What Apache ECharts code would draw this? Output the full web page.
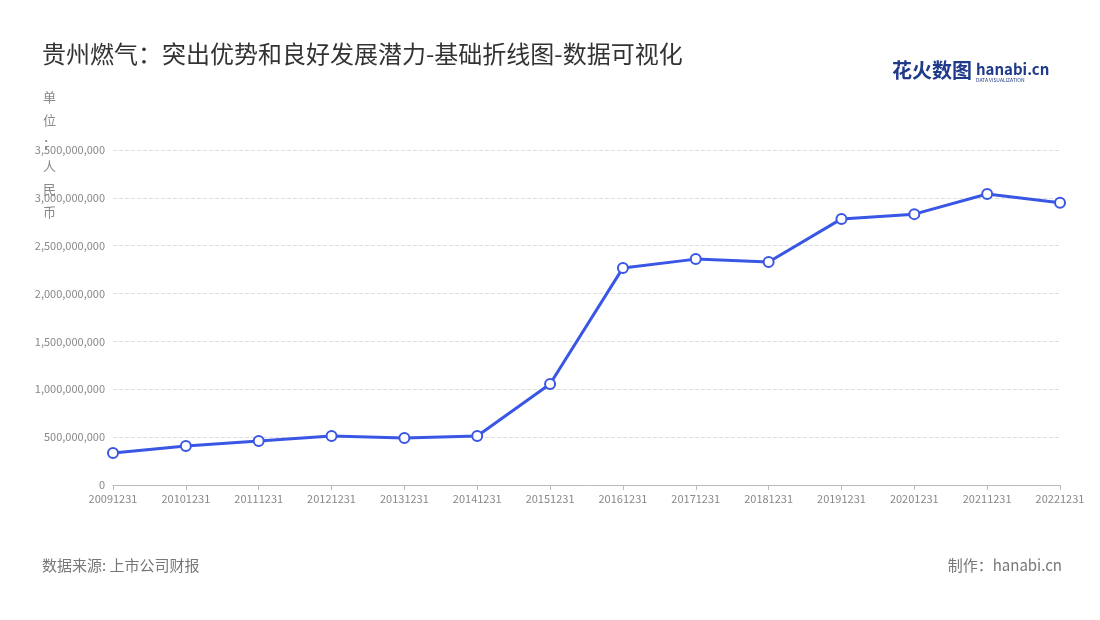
<!DOCTYPE html>
<html>
<head>
<meta charset="utf-8">
<script src="https://cdn.jsdelivr.net/npm/echarts@6/dist/echarts.min.js"></script>
<style>html,body{margin:0;padding:0;background:#fff}#main{width:1100px;height:620px}</style>
</head>
<body>
<div id="main"></div>
<script>
var years = ['20091231','20101231','20111231','20121231','20131231','20141231','20151231','20161231','20171231','20181231','20191231','20201231','20211231','20221231'];
var revenue = [334000000,407000000,460000000,512000000,490000000,512000000,1055000000,2268000000,2360000000,2330000000,2780000000,2830000000,3040000000,2950000000];

var chart = echarts.init(document.getElementById('main'));
var font = '"Noto Sans CJK SC", "Noto Sans", sans-serif';
chart.setOption({
    backgroundColor: '#fff',
    textStyle: {fontFamily: font},
    title: {
        text: '贵州燃气：突出优势和良好发展潜力-基础折线图-数据可视化',
        left: 37, top: 37,
        textStyle: {fontSize: 24, fontWeight: 'normal', color: '#333', fontFamily: font}
    },
    graphic: [
        {type: 'text', left: 892, top: 60, style: {text: '花火数图', fontSize: 20, fontWeight: 'bold', fill: '#1f3a8a', fontFamily: font}},
        {type: 'text', left: 976, top: 62, style: {text: 'hanabi.cn', fontSize: 15, fontWeight: 'bold', fill: '#1f3a8a', fontFamily: font}},
        {type: 'text', left: 976, top: 78, style: {text: 'DATA VISUALIZATION', fontSize: 5, fill: '#1f3a8a', fontFamily: font}},
        {type: 'text', left: 43, top: 86, style: {text: '单\n位\n：\n人\n民\n币', fontSize: 13, lineHeight: 23, fill: '#888', fontFamily: font}},
        {type: 'text', left: 42, top: 558, style: {text: '数据来源: 上市公司财报', fontSize: 15, fill: '#777', fontFamily: font}},
        {type: 'text', right: 38, top: 558, style: {text: '制作：hanabi.cn', fontSize: 15, fill: '#777', fontFamily: font}}
    ],
    grid: {left: 113, right: 40, top: 150, bottom: 135},
    xAxis: {
        type: 'category',
        data: years,
        boundaryGap: false,
        axisLine: {lineStyle: {color: '#bbb'}},
        axisTick: {show: true, lineStyle: {color: '#bbb'}},
        axisLabel: {color: '#888', fontSize: 11, interval: 0}
    },
    yAxis: {
        type: 'value',
        min: 0, max: 3500000000, interval: 500000000,
        axisLine: {show: false},
        axisTick: {show: false},
        axisLabel: {color: '#888', fontSize: 11, formatter: function (v) { return v.toLocaleString('en-US'); }},
        splitLine: {lineStyle: {color: '#ddd', type: 'dashed'}}
    },
    series: [{
        type: 'line',
        data: revenue,
        symbol: 'circle',
        symbolSize: 10,
        lineStyle: {color: '#3a56e4', width: 3},
        itemStyle: {color: '#fff', borderColor: '#3a56e4', borderWidth: 2}
    }]
});
</script>
</body>
</html>
